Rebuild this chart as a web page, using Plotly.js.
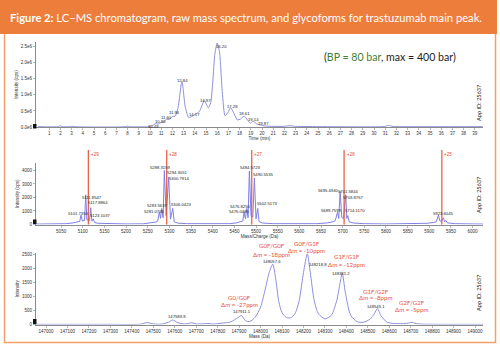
<!DOCTYPE html>
<html><head><meta charset="utf-8">
<script src="https://cdn.plot.ly/plotly-3.0.1.min.js"></script>
<style>html,body{margin:0;padding:0;background:#fff}#c{width:500px;height:349px}</style>
</head><body><div id="c"></div>
<script>
// ---------- Panel 1: LC chromatogram ----------
const timeMin = [0,1.85,2.0,2.15,2.9,3.05,3.2,7.85,8.0,8.15,9.8,10.2,10.45,10.7,11.0,11.2,11.45,11.75,12.0,12.25,12.5,12.85,13.15,13.45,13.75,14.05,14.4,14.85,15.2,15.42,15.6,15.8,16.0,16.2,16.45,16.7,16.95,17.2,17.5,17.8,18.1,18.4,18.7,18.95,19.2,19.5,19.85,20.3,21.0,22.0,22.5,23.0,24.0,30.9,31.3,31.7,32.5,39.7];
const intensityCps = [10000,10000,40000,10000,10000,25000,10000,10000,30000,10000,10000,40000,100000,90000,140000,150000,240000,240000,330000,340000,600000,1420000,620000,300000,330000,400000,480000,820000,600000,760000,1400000,2300000,2620000,2350000,1100000,350000,450000,600000,420000,220000,250000,340000,220000,120000,180000,100000,60000,30000,20000,20000,40000,20000,15000,15000,50000,15000,10000,10000];
const peakLabels1 = ['10.49','10.96','11.60','11.96','12.84','14.17','14.97','16.20','17.28','18.61','19.14','19.87'];
const peakLabelT = [10.3,10.95,11.5,12.2,12.92,13.99,14.91,16.4,17.35,18.42,19.23,20.12];
const peakLabelI = [30000,175000,310000,445000,1443000,405000,832000,2503000,634000,426000,239000,115000];
const timeTicks = [1,2,3,4,5,6,7,8,9,10,11,12,13,14,15,16,17,18,19,20,21,22,23,24,25,26,27,28,29,30,31,32,33,34,35,36,37,38,39];
const intTicks1 = [0,500000,1000000,1500000,2000000,2500000];
const intTickText1 = ['0.0e6','0.5e6','1.0e6','1.5e6','2.0e6','2.5e6'];

// ---------- Panel 2: raw mass spectrum ----------
const mzRaw = [4992,5030,5060,5078,5090,5093,5096,5099,5104,5106.8,5109.5,5115.5,5118.3,5121,5124.3,5127,5135,5160,5200,
  5240,5258,5268,5273,5276.8,5279.5,5282.3,5285.5,5288.3,5292.5,5298.4,5302.5,5307.7,5311,5320,5340,5400,
  5440,5455,5465,5469.5,5472.4,5475.5,5478.6,5481.6,5484.6,5488.5,5492.5,5496.2,5500,5503.9,5507,5515,5540,5600,
  5640,5665,5678,5683,5688,5691,5694.1,5698,5702,5707.2,5709.5,5711.8,5715,5725,5750,5800,
  5860,5895,5910,5916,5921.1,5924.5,5928,5932.6,5935.5,5938,5942,5960,6024];
const intensityRaw = [30,40,60,120,200,230,700,260,300,2200,350,300,1240,250,420,150,90,50,40,
  50,100,180,250,940,450,1190,500,4000,650,3500,400,1190,200,100,60,40,
  60,120,200,260,940,420,1190,500,3950,650,550,3430,420,1190,220,110,60,40,
  60,120,200,300,900,450,2450,500,450,2200,450,650,200,110,60,40,
  50,90,150,200,700,260,230,500,200,300,120,60,30];
const chargeStates = ['+29','+28','+27','+26','+25'];
const chargeMz = [5112.8,5293.8,5490.1,5703.3,5929.0];
const mzLabels = ['5101.7350','5111.8547','5117.8864','5123.1037','5288.3159','5294.3051','5300.7914','5283.5637','5281.0735','5306.0423',
  '5484.5723','5490.5535','5502.5173','5476.8250','5476.0485','5695.4940','5701.5844','5703.8767','5689.7599','5714.1170','5923.6045'];
const mzLabelX = [5089.7,5120.6,5135.8,5139.8,5278.3,5318.3,5322.9,5270.7,5265.2,5326.8,
  5486.1,5516.8,5524.6,5463.1,5460.8,5666.0,5712.0,5724.6,5673.1,5728.5,5931.0];
const mzLabelY = [830,2015,1640,650,4240,3866,3422,1393,948,1496,
  4207,3718,1570,1318,948,2481,2444,2015,1000,1022,830];
const mzTicks = [5050,5100,5150,5200,5250,5300,5350,5400,5450,5500,5550,5600,5650,5700,5750,5800,5850,5900,5950,6000];
const intTicks2 = [0,1000,2000,3000,4000];

// ---------- Panel 3: deconvoluted glycoforms ----------
const massDa = [146953,147300,147440,147470,147500,147540,147570,147590,147615,147650,147680,147700,147760,147780,147820,147860,147895,147911,147930,147950,
  147975,148000,148020,148040,148057,148070,148085,148100,148120,148140,148160,148180,148200,148218,148232,148250,148270,148300,
  148330,148355,148370,148381,148395,148420,148450,148480,148510,148530,148545,148560,148590,148640,148690,148706,148720,148750,149037];
const intensityDecon = [5,5,10,70,20,15,80,160,60,20,60,20,35,15,50,90,250,320,130,110,
  260,620,1200,1850,2150,1650,820,420,250,240,380,850,1850,2520,1850,850,380,200,
  330,850,1450,1820,1150,330,100,80,190,380,570,330,80,30,50,80,40,15,5];
const glycoNames = ['G0/G0F','G0F/G0F','G0F/G1F','G1F/G1F','G1F/G2F','G2F/G2F'];
const glycoPpm = ['Δm = -27ppm','Δm = -18ppm','Δm = -10ppm','Δm = -12ppm','Δm = -8ppm','Δm = -5ppm'];
const glycoX = [147904,148052,148215,148401,148538,148704];
const glycoNameY = [950,2810,2900,2410,1190,770];
const glycoPpmY = [705,2480,2635,2130,950,530];
const massLabels = ['147589.8','147911.1','148057.6','148218.8','148381.2','148545.1'];
const massLabelX = [147609,147912,148052,148268,148374,148538];
const massLabelY = [278,480,2260,2157,1835,650];
const massTicks = [147000,147100,147200,147300,147400,147500,147600,147700,147800,147900,148000,148100,148200,148300,148400,148500,148600,148700,148800,148900,149000];
const intTicks3 = [0,500,1000,1500,2000,2500];

// ---------- layout helpers ----------
const W = 500, H = 349;
const px = v => v / W, py = v => 1 - v / H;
const traceColor = '#8e8edc';
const tickFont = {family: 'Liberation Sans, Arial, sans-serif', size: 4.5, color: '#333'};
const Y3TOP = 2550, Y3PX = 71.5 / 2550;

function axisBase(extra) {
  return Object.assign({
    showline: true, linecolor: '#8a8a8a', linewidth: 1, ticks: 'outside', ticklen: 2, tickwidth: 0.6,
    tickcolor: '#8a8a8a', tickfont: tickFont, showgrid: false, zeroline: false, fixedrange: true
  }, extra);
}

const traces = [
  {x: timeMin, y: intensityCps, xaxis: 'x', yaxis: 'y', type: 'scatter', mode: 'lines',
   line: {color: traceColor, width: 1, shape: 'spline', smoothing: 0.6}, hoverinfo: 'skip'},
  {x: mzRaw, y: intensityRaw, xaxis: 'x2', yaxis: 'y2', type: 'scatter', mode: 'lines',
   line: {color: '#7f7fe6', width: 1}, hoverinfo: 'skip'},
  {x: massDa, y: intensityDecon, xaxis: 'x3', yaxis: 'y3', type: 'scatter', mode: 'lines',
   line: {color: traceColor, width: 1, shape: 'spline', smoothing: 0.7}, hoverinfo: 'skip'}
];

const annotations = [];
const smallTxt = (text, x, y, xr, yr, extra) => Object.assign({text, x, y, xref: xr, yref: yr, showarrow: false,
  font: {family: 'Liberation Sans, Arial, sans-serif', size: 4.2, color: '#222'}, xanchor: 'center', yanchor: 'middle'}, extra || {});

annotations.push({text: '<b>Figure 2:</b> LC–MS chromatogram, raw mass spectrum, and glycoforms for trastuzumab main peak.',
  x: px(8), y: py(17), xref: 'paper', yref: 'paper', xanchor: 'left', yanchor: 'middle', showarrow: false,
  font: {family: 'Lato, sans-serif', size: 11.2, color: '#ffffff'}});
annotations.push({text: '(<span style="color:#3f7f2f">BP = 80 bar</span>, max = 400 bar)',
  x: px(390), y: py(57), xref: 'paper', yref: 'paper', xanchor: 'center', yanchor: 'middle', showarrow: false,
  font: {family: 'Lato, sans-serif', size: 10.6, color: '#222'}});
[103, 195, 293].forEach(yy => annotations.push({text: 'App ID: 25637', x: px(478), y: py(yy), xref: 'paper', yref: 'paper',
  textangle: -90, showarrow: false, xanchor: 'center', yanchor: 'middle',
  font: {family: 'Lato, sans-serif', size: 5.6, color: '#222'}}));

peakLabels1.forEach((t, i) => annotations.push(smallTxt(t, peakLabelT[i], peakLabelI[i], 'x', 'y')));
mzLabels.forEach((t, i) => annotations.push(smallTxt(t, mzLabelX[i], mzLabelY[i], 'x2', 'y2')));
chargeStates.forEach((t, i) => annotations.push({text: t, x: chargeMz[i], y: py(154), xref: 'x2', yref: 'paper',
  xanchor: 'left', yanchor: 'middle', showarrow: false, xshift: 0.5,
  font: {family: 'Liberation Sans, Arial, sans-serif', size: 4.5, color: '#e0452a'}}));
function glyAnn(text, x, y, font) {
  let yy = y, shift = 0;
  if (y > Y3TOP) { yy = Y3TOP; shift = (y - Y3TOP) * Y3PX; }
  return {text, x, y: yy, yshift: shift, xref: 'x3', yref: 'y3', showarrow: false, xanchor: 'center', yanchor: 'middle', font};
}
const redFont = {family: 'Lato, sans-serif', size: 6.1, color: '#e8553a'};
const blackFont = {family: 'Liberation Sans, Arial, sans-serif', size: 4.2, color: '#222'};
glycoNames.forEach((t, i) => {
  annotations.push(glyAnn(t, glycoX[i], glycoNameY[i], redFont));
  annotations.push(glyAnn(glycoPpm[i], glycoX[i], glycoPpmY[i], redFont));
});
massLabels.forEach((t, i) => annotations.push(glyAnn(t, massLabelX[i], massLabelY[i], blackFont)));

const shapes = [
  {type: 'rect', xref: 'paper', yref: 'paper', x0: px(4.5), x1: px(495.5), y0: py(342.5), y1: py(1), line: {color: '#f2a06a', width: 1.5}, fillcolor: 'rgba(0,0,0,0)', layer: 'below'},
  {type: 'rect', xref: 'paper', yref: 'paper', x0: px(0), x1: px(497), y0: py(34), y1: py(0), line: {width: 0}, fillcolor: '#ed7d3a', layer: 'below'},
  {type: 'rect', xref: 'paper', yref: 'paper', x0: px(33), x1: px(36.5), y0: py(128.5), y1: py(124), line: {width: 0}, fillcolor: '#111'},
  {type: 'rect', xref: 'paper', yref: 'paper', x0: px(33), x1: px(36.5), y0: py(224), y1: py(219.5), line: {width: 0}, fillcolor: '#111'},
  {type: 'rect', xref: 'paper', yref: 'paper', x0: px(33), x1: px(36.5), y0: py(324), y1: py(319), line: {width: 0}, fillcolor: '#111'}
];
chargeMz.forEach(m => shapes.push({type: 'line', xref: 'x2', yref: 'paper', x0: m, x1: m, y0: py(224.5), y1: py(150),
  line: {color: '#e8553a', width: 1.2}}));

const xdom = [px(36), px(483)];
const titleFont = {family: 'Liberation Sans, Arial', size: 4.6, color: '#333'};
const layout = {
  width: W, height: H, margin: {l: 0, r: 0, t: 0, b: 0}, showlegend: false,
  paper_bgcolor: '#fff', plot_bgcolor: '#fff',
  xaxis: axisBase({domain: xdom, anchor: 'y', range: [-0.18, 39.73], tickvals: timeTicks, ticktext: timeTicks.map(String),
    title: {text: 'Time (min)', font: titleFont, standoff: 1}}),
  yaxis: axisBase({domain: [py(127), py(42)], anchor: 'x', range: [0, 2650000], tickvals: intTicks1, ticktext: intTickText1,
    title: {text: 'Intensity (cps)', font: titleFont, standoff: 2}}),
  xaxis2: axisBase({domain: xdom, anchor: 'y2', range: [4992, 6024], tickvals: mzTicks, tickformat: 'd',
    title: {text: 'Mass/Charge (Da)', font: titleFont, standoff: 1}}),
  yaxis2: axisBase({domain: [py(224.5), py(163)], anchor: 'x2', range: [0, 4550], tickvals: intTicks2, tickformat: 'd',
    title: {text: 'Intensity (cps)', font: titleFont, standoff: 2}}),
  xaxis3: axisBase({domain: xdom, anchor: 'y3', range: [146953, 149037], tickvals: massTicks, tickformat: 'd',
    title: {text: 'Mass (Da)', font: titleFont, standoff: 1}}),
  yaxis3: axisBase({domain: [py(324.5), py(253)], anchor: 'x3', range: [0, Y3TOP], tickvals: intTicks3, tickformat: 'd',
    title: {text: 'Intensity', font: titleFont, standoff: 2}}),
  annotations, shapes
};
Plotly.newPlot('c', traces, layout, {staticPlot: true, displayModeBar: false});
</script></body></html>
